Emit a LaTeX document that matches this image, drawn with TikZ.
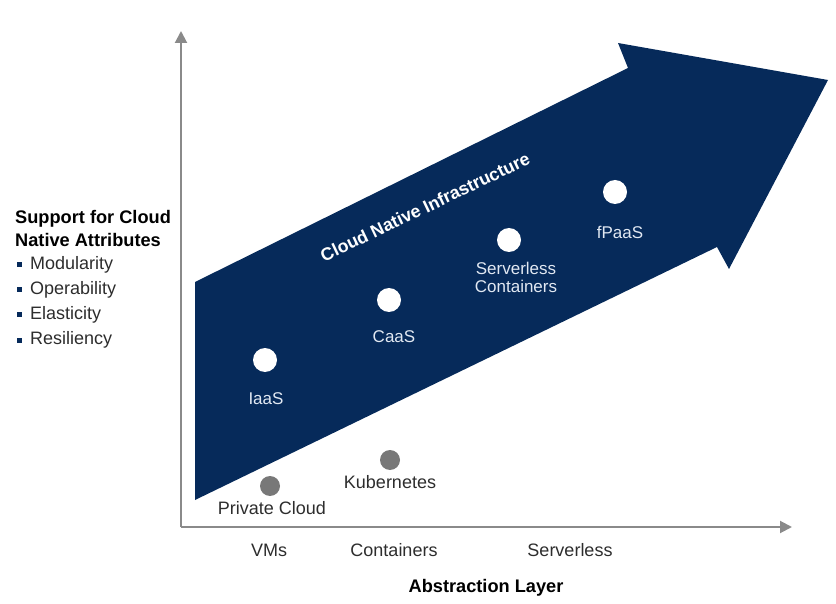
\documentclass[tikz,border=0pt]{standalone}
\usepackage{fontspec}
\setmainfont{Liberation Sans}
\usetikzlibrary{arrows.meta}

\definecolor{navy}{RGB}{6,42,90}
\definecolor{axisgray}{RGB}{138,138,138}
\definecolor{dotgray}{RGB}{120,120,120}
\definecolor{txtgray}{RGB}{45,45,45}
\definecolor{lightlbl}{RGB}{225,232,242}

\begin{document}
\begin{tikzpicture}[
    x=1pt, y=-1pt,
    lbl/.style={font=\fontsize{18}{19}\selectfont, text=txtgray, inner sep=0pt},
    inlbl/.style={lbl, font=\fontsize{17}{18}\selectfont, text=lightlbl, align=center},
    title/.style={lbl, font=\fontsize{18.2}{20}\selectfont\bfseries, text=black},
    item/.style={lbl, anchor=west},
    bullet/.style={rectangle, fill=navy, minimum size=5pt, inner sep=0pt},
    level/.style={circle, fill=white, minimum size=24pt, inner sep=0pt},
    base/.style={circle, fill=dotgray, minimum size=20pt, inner sep=0pt},
    axis/.style={draw=axisgray, line width=2pt, -{Triangle[length=12pt, width=12pt]}}
]
\useasboundingbox (0,0) rectangle (836,604);

%% --- Sageata mare ---
\fill[navy] (195,282) -- (628,68) -- (618,43) -- (828,80)
    -- (729,269) -- (717,247) -- (195,500) -- cycle;
\node[font=\fontsize{17.8}{20}\selectfont\bfseries, text=white, rotate=25.5]
    (cni) at (425,207) {Cloud Native Infrastructure};

%% --- Axe ---
\coordinate (origin) at (181,527);
\coordinate (ytop)   at (181,31);
\coordinate (xend)   at (792,527);
\draw[axis] (origin) -- (ytop);
\draw[axis] (origin) -- (xend);

%% --- Atribute ---
\node[title, anchor=west] (sup1) at (15,219) {Support for Cloud};
\node[title, anchor=west] (sup2) at (15,240) {Native Attributes};
\node[bullet] (b1) at (19,265) {};
\node[item]   (mod) at (30,265) {Modularity};
\node[bullet] (b2) at (19,290) {};
\node[item]   (ope) at (30,290) {Operability};
\node[bullet] (b3) at (19,315) {};
\node[item]   (ela) at (30,315) {Elasticity};
\node[bullet] (b4) at (19,340) {};
\node[item]   (res) at (30,340) {Resiliency};

%% --- Niveluri ---
\node[level] (iaas)  at (265,360) {};
\node[inlbl] (iaasl) at (266,399) {IaaS};
\node[level] (caas)  at (389,300) {};
\node[inlbl] (caasl) at (394,337) {CaaS};
\node[level] (slc)   at (509,240) {};
\node[inlbl] (slcl)  at (516,277) {Serverless\\Containers};
\node[level] (fpaas)  at (615,192) {};
\node[inlbl] (fpaasl) at (620,232) {fPaaS};

%% --- Baza ---
\node[base] (pc)   at (270,486) {};
\node[lbl]  (pcl)  at (272,508) {Private Cloud};
\node[base] (k8s)  at (390,460) {};
\node[lbl]  (k8sl) at (390,482) {Kubernetes};

%% --- Axa orizontala ---
\node[lbl]   (vms)  at (269,550) {VMs};
\node[lbl]   (cont) at (394,550) {Containers};
\node[lbl]   (srv)  at (570,550) {Serverless};
\node[title] (abs)  at (486,588) {Abstraction Layer};

\end{tikzpicture}
\end{document}
